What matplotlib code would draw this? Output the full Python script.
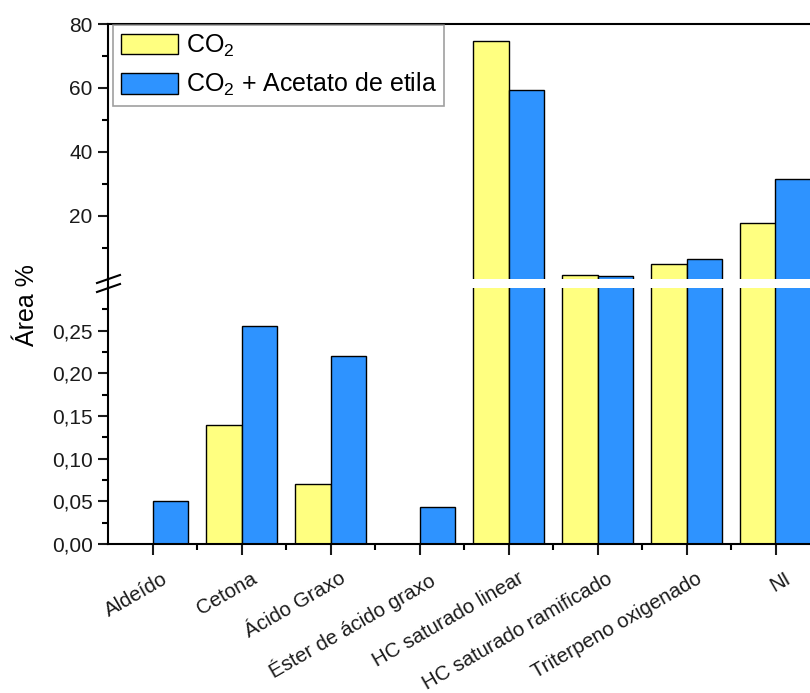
import numpy as np
import matplotlib.pyplot as plt
import matplotlib.transforms as mtrans
from matplotlib.lines import Line2D
from matplotlib.ticker import FuncFormatter, MultipleLocator

plt.rcParams['font.family'] = ['Liberation Sans', 'DejaVu Sans']
plt.rcParams['mathtext.fontset'] = 'custom'
plt.rcParams['mathtext.rm'] = 'Liberation Sans'

categories = ['Aldeído', 'Cetona', 'Ácido Graxo', 'Éster de ácido graxo',
              'HC saturado linear', 'HC saturado ramificado',
              'Triterpeno oxigenado', 'NI']
co2 = [0.0, 0.14, 0.07, 0.0, 74.7, 1.5, 4.9, 17.7]
co2_acetato = [0.05, 0.255, 0.22, 0.043, 59.4, 1.3, 6.5, 31.5]
series_labels = ['CO$_2$', 'CO$_2$ + Acetato de etila']

low_max = 0.3   # top of the lower segment
W, H = 810, 693
fig = plt.figure(figsize=(W / 100, H / 100), dpi=100)

def px_box(x0, y_top, x1, y_bot):
    return [x0 / W, 1 - y_bot / H, (x1 - x0) / W, (y_bot - y_top) / H]

def fx(px):
    return px / W

def fy(py):
    return 1 - py / H

# axes run past the right edge of the canvas
ax_top = fig.add_axes(px_box(108, 24, 820, 279))
ax_bot = fig.add_axes(px_box(108, 288, 820, 544))

x = np.arange(1, len(categories) + 1)
bw = 0.4
for ax in (ax_top, ax_bot):
    a = np.array(co2)
    b = np.array(co2_acetato)
    if ax is ax_top:
        # only bars that reach the upper segment
        a = np.where(a > low_max, a, np.nan)
        b = np.where(b > low_max, b, np.nan)
    ax.bar(x - bw / 2, a, bw, color='#FFFF80', edgecolor='black', linewidth=1.0,
           label=series_labels[0])
    ax.bar(x + bw / 2, b, bw, color='#2E93FF', edgecolor='black', linewidth=1.0,
           label=series_labels[1])
    ax.set_xlim(0.5, len(categories) + 0.5)
    ax.spines['right'].set_visible(False)
    for s in ax.spines.values():
        s.set_linewidth(1.5)
    ax.tick_params(axis='both', which='major', direction='out', length=7.5, width=1.5,
                   labelsize=15, colors='#1a1a1a')
    ax.tick_params(axis='both', which='minor', direction='out', length=4, width=1.5)

comma = FuncFormatter(lambda v, pos: f'{v:.2f}'.replace('.', ','))

ax_top.set_ylim(low_max, 80)
ax_top.set_yticks([20, 40, 60, 80])
ax_top.yaxis.set_minor_locator(MultipleLocator(10))
ax_top.spines['bottom'].set_visible(False)
ax_top.tick_params(axis='x', which='both', bottom=False, labelbottom=False)

ax_bot.set_ylim(0, low_max)
ax_bot.set_yticks(np.arange(0, 0.26, 0.05))
ax_bot.yaxis.set_major_formatter(comma)
ax_bot.set_yticks(np.arange(0.025, 0.3, 0.05), minor=True)
ax_bot.spines['top'].set_visible(False)
ax_bot.set_xticks(x)
ax_bot.set_xticks(x[:-1] + 0.5, minor=True)
ax_bot.tick_params(axis='x', which='major', length=8, labelbottom=False)

# category names, rotated and anchored just right of each tick
shift = mtrans.ScaledTranslation(9 / 100, -25 / 100, fig.dpi_scale_trans)
for xi, name in zip(x, categories):
    ax_bot.text(xi, 0, name, transform=ax_bot.get_xaxis_transform() + shift,
                rotation=30, rotation_mode='anchor', ha='right', va='top',
                fontsize=14.8, color='#1a1a1a', clip_on=False)

# left spine through the gap, with the break marks
fig.add_artist(Line2D([fx(108), fx(108)], [fy(279), fy(288)], color='black', lw=1.5))
for yc in (279, 288):
    fig.add_artist(Line2D([fx(97), fx(120)], [fy(yc + 4), fy(yc - 4)],
                          color='black', lw=1.5))

fig.text(fx(27), fy(305), 'Área %', rotation=90, ha='center', va='center', fontsize=18)

leg = ax_top.legend(loc='upper left', bbox_to_anchor=(fx(113), fy(25)),
                    bbox_transform=fig.transFigure, fontsize=18, frameon=True,
                    fancybox=False, edgecolor='#888888', handlelength=2.3,
                    handleheight=0.9, handletextpad=0.3, borderpad=0.3,
                    labelspacing=0.5, borderaxespad=0)
leg.get_frame().set_linewidth(1.2)

fig.savefig('out.png', dpi=100)
